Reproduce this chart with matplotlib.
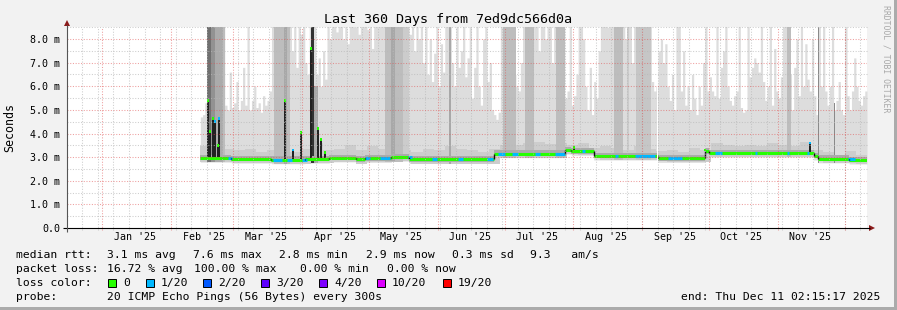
import numpy as np
import matplotlib
matplotlib.use("Agg")
import matplotlib.pyplot as plt
from matplotlib.patches import Rectangle, Polygon

plt.rcParams['font.family'] = ['DejaVu Sans Mono']

# ---------------- data (x = days since graph start, 2024-12-16 02:15:17) ----------------
graph_start = np.datetime64('2024-12-16T02:15:17')
span_days = 360
first_day = 60

# outer smoke (lightest layer) top per day, ms (9 = beyond the top of the chart)
outer_top = [
    4.7, 4.8, 5.3, 9, 9, 9, 9, 9, 9, 9,
    9, 5.2, 5.0, 6.6, 5.1, 5.3, 6.2, 5.0, 5.4, 6.8,
    5.2, 8.6, 5.0, 5.4, 6.0, 5.1, 5.3, 4.9, 5.6, 5.2,
    5.4, 5.8, 9, 9, 9, 9, 9, 9, 9, 9,
    9, 7.5, 9, 6.8, 9, 8.2, 9, 7.0, 6.5, 9,
    9, 9, 6.5, 7.2, 6.0, 7.5, 6.3, 9, 8.0, 9,
    9, 8.3, 9, 9, 8.0, 9, 7.8, 9, 9, 8.5,
    9, 8.2, 9, 9, 9, 8.4, 9, 7.6, 9, 8.8,
    9, 9, 9, 9, 9, 9, 9, 9, 9, 9,
    9, 9, 9, 9, 8.2, 9, 7.5, 9, 8.0, 9,
    7.0, 9, 6.5, 8.0, 6.2, 7.4, 9, 6.0, 7.8, 6.6,
    9, 9, 9, 7.0, 6.0, 9, 6.8, 7.5, 9, 6.4,
    7.2, 9, 5.5, 6.8, 9, 6.0, 5.2, 8.0, 9, 6.2,
    7.0, 5.0, 4.8, 4.6, 4.9, 9, 9, 9, 9, 9,
    9, 6.5, 6.0, 5.8, 7.0, 9, 9, 9, 9, 8.0,
    9, 9, 7.5, 9, 9, 8.0, 9, 9, 7.0, 9,
    9, 9, 9, 9, 5.5, 5.8, 9, 5.2, 5.6, 6.5,
    9, 9, 8.0, 6.0, 5.0, 6.8, 4.8, 6.2, 5.5, 7.5,
    9, 9, 9, 8.5, 9, 9, 9, 9, 9, 9,
    9, 8.0, 9, 9, 7.0, 9, 9, 9, 9, 9,
    9, 9, 9, 6.2, 5.8, 6.0, 7.5, 8.0, 7.0, 7.8,
    6.0, 5.4, 6.5, 5.0, 9, 9, 5.8, 7.5, 5.2, 6.0,
    5.0, 6.5, 5.5, 4.8, 6.0, 5.2, 7.0, 9, 5.8, 6.4,
    5.8, 5.6, 9, 5.5, 6.8, 7.5, 9, 6.0, 5.4, 5.2,
    5.6, 5.8, 9, 5.1, 4.9, 5.0, 9, 6.4, 6.8, 7.2,
    7.0, 6.6, 9, 6.2, 5.4, 6.0, 9, 5.2, 7.6, 5.8,
    5.5, 6.4, 9, 9, 9, 6.5, 5.0, 6.8, 8.0, 5.6,
    9, 6.0, 7.8, 6.3, 5.8, 8.0, 5.6, 4.8, 9, 6.0,
    9, 5.8, 5.2, 6.0, 9, 5.0, 5.4, 6.2, 5.0, 4.8,
    9, 5.6, 5.0, 5.8, 7.2, 6.0, 5.4, 5.2, 5.6, 5.8,
]

# second smoke layer top, one value per 5 days
band2_step = 5
band2_top = [
    3.45, 3.7, 3.35, 3.3, 3.35, 3.2, 3.3, 3.45, 3.2, 3.35, 3.6, 3.3,
    3.35, 3.5, 3.3, 3.45, 3.35, 3.6, 3.3, 3.2, 3.35, 3.3, 3.45, 3.35,
    3.3, 3.2, 3.35, 3.5, 3.5, 3.6, 3.65, 3.55, 3.6, 3.5, 3.6, 3.4,
    3.45, 3.4, 3.3, 3.45, 3.35, 3.25, 3.3, 3.2, 3.4, 3.3, 3.6, 3.5,
    3.45, 3.5, 3.45, 3.6, 3.5, 3.45, 3.65, 3.3, 3.2, 3.1, 3.25, 3.1,
]

# median rtt segments
seg_start = [60, 74, 92, 107, 118, 130, 134, 146, 154, 192, 224, 227, 237, 266, 287, 289, 336, 338, 352]
seg_end = [74, 92, 107, 118, 130, 134, 146, 154, 192, 224, 227, 237, 266, 287, 289, 336, 338, 352, 360]
seg_med = [2.96, 2.92, 2.89, 2.92, 2.97, 2.90, 2.95, 3.00, 2.90, 3.15, 3.30, 3.25, 3.05, 2.95, 3.25, 3.18, 3.05, 2.93, 2.88]
seg_low = [2.79, 2.75, 2.72, 2.75, 2.80, 2.73, 2.78, 2.83, 2.73, 2.98, 3.13, 3.08, 2.88, 2.78, 3.08, 3.01, 2.88, 2.76, 2.71]
seg_dark_lo = [2.86, 2.82, 2.79, 2.82, 2.87, 2.80, 2.85, 2.90, 2.80, 3.05, 3.20, 3.15, 2.95, 2.85, 3.15, 3.08, 2.95, 2.83, 2.78]
seg_dark_hi = [3.10, 3.06, 3.03, 3.06, 3.11, 3.04, 3.09, 3.14, 3.04, 3.29, 3.44, 3.39, 3.19, 3.09, 3.39, 3.32, 3.19, 3.07, 3.02]

# tall darker smoke columns
col_start = [63.2, 64.8, 66.5, 70, 93, 97.5, 99, 110, 111, 143, 146, 151, 172, 196, 206, 220, 246, 252, 256, 324, 338, 345]
col_end = [64.8, 66.5, 70, 71, 97.5, 99, 100.5, 111, 113, 151, 147.5, 154, 173, 202, 210, 224, 250, 253, 263, 326, 338.6, 345.5]
col_top = [9, 9, 9, 9, 9, 9, 9, 9, 6.0, 9, 9, 9, 9, 9, 9, 9, 9, 9, 9, 9, 9, 5.3]
col_gray = ['#707070', '#929292', '#ababab', '#bdbdbd', '#bdbdbd', '#a8a8a8', '#bdbdbd', '#323232',
            '#a8a8a8', '#bdbdbd', '#a8a8a8', '#cccccc', '#a8a8a8', '#bdbdbd', '#bdbdbd', '#bdbdbd',
            '#bdbdbd', '#cccccc', '#c6c6c6', '#bdbdbd', '#8a8a8a', '#8a8a8a']

# median spikes
spike_day = [63.5, 64.3, 65.5, 66.6, 67.8, 68.5, 98.0, 101.8, 105.5, 110.0, 113.0, 114.2, 116.2, 228.0, 287.0, 334.5]
spike_val = [5.4, 4.1, 4.65, 4.5, 3.5, 4.65, 5.4, 3.3, 4.05, 7.6, 4.2, 3.75, 3.2, 3.4, 3.3, 3.6]
spike_loss = [0, 0, 0, 1, 0, 1, 0, 1, 0, 0, 0, 0, 0, 0, 0, 1]

# median parts with 1/20 loss
blue_start = [72.5, 92.7, 99.0, 105.8, 134.1, 141.0, 153.5, 164.3, 176.0, 189.0, 194.0, 200.3,
              210.6, 219.6, 231.8, 246.6, 255.6, 270.5, 291.6, 309.6, 324.0, 333.0, 351.5]
blue_end = [74.3, 96.8, 101.3, 108.0, 136.4, 145.4, 155.3, 166.5, 178.0, 191.7, 197.0, 203.0,
            213.0, 224.0, 233.0, 248.0, 264.6, 276.8, 294.8, 310.5, 325.0, 334.0, 354.6]

gap_days = [265.3]

loss_labels = ['0', '1/20', '2/20', '3/20', '4/20', '10/20', '19/20']
loss_colors = ['#26ff00', '#00b8ff', '#0059ff', '#5e00ff', '#7e00ff', '#dd00ff', '#ff0000']

month_labels = ["Jan '25", "Feb '25", "Mar '25", "Apr '25", "May '25", "Jun '25",
                "Jul '25", "Aug '25", "Sep '25", "Oct '25", "Nov '25"]
y_labels = ['0.0', '1.0 m', '2.0 m', '3.0 m', '4.0 m', '5.0 m', '6.0 m', '7.0 m', '8.0 m']

title = 'Last 360 Days from 7ed9dc566d0a'
rtt_stats = ['3.1 ms avg', '7.6 ms max', '2.8 ms min', '2.9 ms now', '0.3 ms sd', '9.3   am/s']
loss_stats = ['16.72 % avg', '100.00 % max', '0.00 % min', '0.00 % now']
probe_text = '20 ICMP Echo Pings (56 Bytes) every 300s'
end_text = 'end: Thu Dec 11 02:15:17 2025'

# ---------------- layout ----------------
W, H = 897, 310
X0, X1, YB, YT = 67, 867, 228, 27.2
YMAX = 8.5

fig = plt.figure(figsize=(W / 100, H / 100), dpi=100)
fig.patch.set_facecolor('#f2f2f2')
ax = fig.add_axes([X0 / W, 1 - YB / H, (X1 - X0) / W, (YB - YT) / H])
ax.set_facecolor('white')
ax.set_xlim(0, span_days)
ax.set_ylim(0, YMAX)
for s in ax.spines.values():
    s.set_visible(False)

seg_start_a = np.array(seg_start)


def seg_index(d):
    return np.clip(np.searchsorted(seg_start_a, d, side='right') - 1, 0, len(seg_start) - 1)


# outer smoke
days = np.arange(first_day, first_day + len(outer_top) + 1)
top = np.append(outer_top, outer_top[-1])
low = np.array(seg_low)[seg_index(days)]
ax.fill_between(days, low, top, step='post', color='#dddddd', lw=0, zorder=1)

# second layer
d2 = np.arange(first_day, first_day + band2_step * len(band2_top) + 1, band2_step)
t2 = np.append(band2_top, band2_top[-1])
ax.fill_between(d2, np.array(seg_low)[seg_index(d2)], t2, step='post', color='#cdcdcd', lw=0, zorder=2)

# tall columns
cs, ce = np.array(col_start), np.array(col_end)
cb = np.array(seg_low)[seg_index(cs)]
ax.bar(cs, np.array(col_top) - cb, width=ce - cs, bottom=cb, align='edge',
       color=col_gray, lw=0, zorder=3)

# dark band around the median
ss, se = np.array(seg_start), np.array(seg_end)
ax.bar(ss, np.array(seg_dark_hi) - np.array(seg_dark_lo), width=se - ss, bottom=seg_dark_lo,
       align='edge', color='#ababab', lw=0, zorder=4)

# spikes
sd = np.array(spike_day)
smed = np.array(seg_med)[seg_index(sd)]
ax.bar(sd - 0.45, np.array(spike_val) - smed, width=0.9, bottom=smed, align='edge',
       color='#222222', lw=0, zorder=5)
ax.bar(sd - 0.45, 0.12, width=0.9, bottom=np.array(spike_val) - 0.06, align='edge',
       color=[loss_colors[i] for i in spike_loss], lw=0, zorder=6)

# median line
ax.hlines(seg_med, seg_start, seg_end, color=loss_colors[0], lw=2.2, zorder=6, capstyle='butt')
bs = np.array(blue_start)
ax.hlines(np.array(seg_med)[seg_index(bs)], blue_start, blue_end, color=loss_colors[1],
          lw=2.2, zorder=6.1, capstyle='butt')
ax.vlines(seg_start[1:], seg_med[:-1], seg_med[1:], color='#111111', lw=1, zorder=6.2)

for g in gap_days:
    ax.axvspan(g, g + 0.45, color='white', lw=0, zorder=6.5)

# grid (dotted, drawn over the smoke like rrdtool does)
month_starts = np.arange(np.datetime64('2025-01'), np.datetime64('2026-01'), dtype='datetime64[M]')
month_days = (month_starts.astype('datetime64[s]') - graph_start) / np.timedelta64(1, 'D')
mondays = np.arange(np.datetime64('2024-12-23'), np.datetime64('2025-12-12'), np.timedelta64(7, 'D'))
monday_days = (mondays.astype('datetime64[s]') - graph_start) / np.timedelta64(1, 'D')
ext = 2 / 23.625
dots = [(0, (1, 1.6))]
ax.vlines(monday_days, -ext, YMAX, color='#b8b8b8', alpha=0.7, lw=0.75, linestyles=dots,
          zorder=7, clip_on=False)
ax.hlines(np.arange(0.5, 8.6, 1.0), 0, span_days, color='#b8b8b8', alpha=0.7, lw=0.75,
          linestyles=dots, zorder=7, clip_on=False)
ax.vlines(month_days, -ext, YMAX, color='#e05050', alpha=0.55, lw=0.75, linestyles=dots,
          zorder=7.5, clip_on=False)
ax.hlines(np.arange(1, 9), 0, span_days, color='#e05050', alpha=0.55, lw=0.75,
          linestyles=dots, zorder=7.5)

# ticks
ax.set_yticks(np.arange(9))
ax.set_yticklabels(y_labels)
ax.tick_params(axis='y', length=0, pad=5, labelsize=7.2)
ax.set_xticks(month_days[:len(month_labels)] + 14.6)
ax.set_xticklabels(month_labels)
ax.tick_params(axis='x', length=0, pad=3, labelsize=7.2)

# ---------------- overlay in pixel coordinates ----------------
ov = fig.add_axes([0, 0, 1, 1], zorder=10)
ov.set_xlim(0, W)
ov.set_ylim(H, 0)
ov.axis('off')
ov.patch.set_alpha(0)

ov.plot([63, 870], [YB, YB], color='black', lw=0.8, solid_capstyle='butt')
ov.plot([X0, X0], [232, 25], color='#555555', lw=0.8, solid_capstyle='butt')
ov.add_patch(Polygon([(869, 225), (875, 228), (869, 231)], closed=True, color='#8b1a1a', lw=0))
ov.add_patch(Polygon([(64, 26), (67, 20), (70, 26)], closed=True, color='#8b1a1a', lw=0))

ov.add_patch(Rectangle((894, 0), 3, H, color='#ababab', lw=0))
ov.add_patch(Rectangle((0, 307), W, 3, color='#ababab', lw=0))

ov.text(448, 19.5, title, fontsize=9.6, ha='center', va='center')
ov.text(10, 128, 'Seconds', fontsize=8.4, rotation=90, ha='center', va='center')
ov.text(886, 59, 'RRDTOOL / TOBI OETIKER', fontsize=5.9, rotation=270,
        ha='center', va='center', color='#a8a8a8')

fs = 8.2
ov.text(16, 258, 'median rtt:', fontsize=fs)
for x, s in zip([107, 193, 279, 366, 452, 530], rtt_stats):
    ov.text(x, 258, s, fontsize=fs)
ov.text(16, 272, 'packet loss:', fontsize=fs)
for x, s in zip([107, 194, 300, 387], loss_stats):
    ov.text(x, 272, s, fontsize=fs)
ov.text(16, 286, 'loss color:', fontsize=fs)
for x, lab, c in zip([108, 146, 203, 261, 319, 377, 443], loss_labels, loss_colors):
    ov.add_patch(Rectangle((x, 278.5), 8, 8, facecolor=c, edgecolor='black', lw=0.7))
    ov.text(x + 15, 286, lab, fontsize=fs)
ov.text(16, 300, 'probe:', fontsize=fs)
ov.text(107, 300, probe_text, fontsize=fs)
ov.text(880, 300, end_text, fontsize=fs, ha='right')

fig.savefig('out.png', dpi=100, facecolor=fig.get_facecolor())
